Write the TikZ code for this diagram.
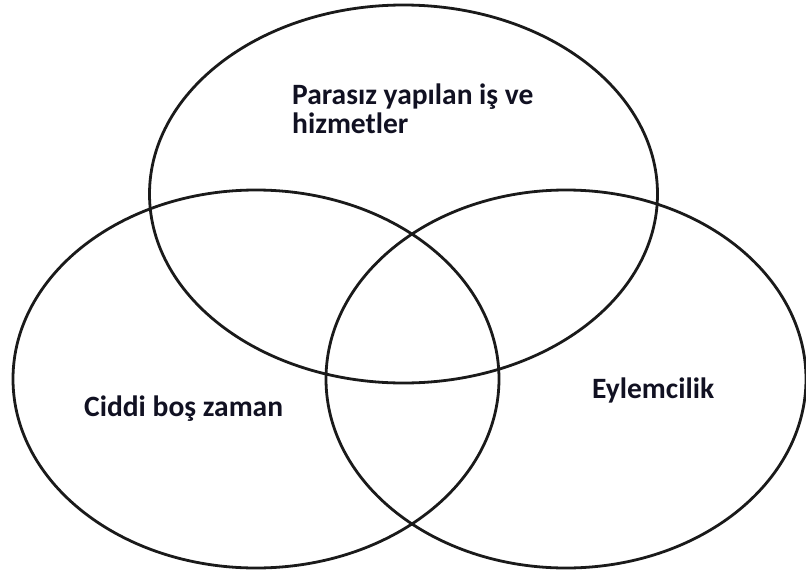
\documentclass[tikz,border=0pt]{standalone}
\usepackage{fontspec}
\setmainfont{Carlito}
\usetikzlibrary{positioning}
\definecolor{ring}{HTML}{1A1A1A}
\definecolor{ink}{HTML}{111122}
\tikzset{setring/.style={draw=ring,line width=2.8pt},setlabel/.style={text=ink,font=\fontsize{29.5}{29}\selectfont\bfseries,anchor=base west,inner sep=0pt,align=left}}

\begin{document}
\begin{tikzpicture}[x=1pt,y=-1pt]
\useasboundingbox (0,0) rectangle (806,573);
\draw[setring] (403.5,194) ellipse [x radius=254,y radius=189];
\draw[setring] (256,379) ellipse [x radius=243,y radius=189];
\draw[setring] (566,379) ellipse [x radius=240,y radius=189];
% base of a two-line node sits on its last line
\node[setlabel] (gonullu) at (292,133) {Parasız yapılan iş ve\\hizmetler};
\node[setlabel] (ciddi) at (84,416) {Ciddi boş zaman};
\node[setlabel] (eylem) at (592,398) {Eylemcilik};
\end{tikzpicture}
\end{document}
